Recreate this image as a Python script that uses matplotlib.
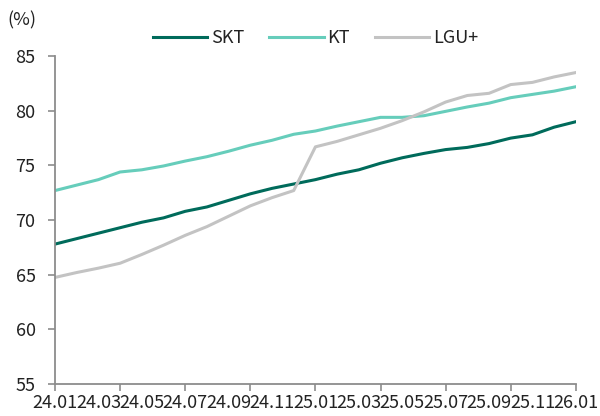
import matplotlib.pyplot as plt
import numpy as np

plt.rcParams['font.family'] = ['Noto Sans CJK KR', 'DejaVu Sans']
plt.rcParams['font.weight'] = 'light'

months = ['24.01', '24.02', '24.03', '24.04', '24.05', '24.06', '24.07', '24.08', '24.09',
          '24.10', '24.11', '24.12', '25.01', '25.02', '25.03', '25.04', '25.05', '25.06',
          '25.07', '25.08', '25.09', '25.10', '25.11', '25.12', '26.01']
skt = [67.8, 68.3, 68.8, 69.3, 69.8, 70.2, 70.8, 71.2, 71.8, 72.4, 72.9, 73.3, 73.7,
       74.2, 74.6, 75.2, 75.7, 76.1, 76.45, 76.65, 77.0, 77.5, 77.8, 78.5, 79.0]
kt = [72.7, 73.2, 73.7, 74.4, 74.6, 74.95, 75.4, 75.8, 76.3, 76.85, 77.3, 77.85, 78.15,
      78.6, 79.0, 79.4, 79.4, 79.55, 79.95, 80.35, 80.7, 81.2, 81.5, 81.8, 82.2]
lgu = [64.75, 65.2, 65.6, 66.05, 66.85, 67.7, 68.6, 69.4, 70.35, 71.3, 72.05, 72.7, 76.7,
       77.2, 77.8, 78.4, 79.1, 79.9, 80.8, 81.4, 81.6, 82.4, 82.6, 83.1, 83.5]

fig = plt.figure(figsize=(6, 4.16), dpi=100)
ax = fig.add_axes([0.0917, 0.077, 0.868, 0.788])

x = np.arange(len(months))
ax.plot(x, skt, color='#006b5b', lw=2.2, label='SKT')
ax.plot(x, kt, color='#66cdbb', lw=2.2, label='KT')
ax.plot(x, lgu, color='#c3c3c3', lw=2.2, label='LGU+')

ax.set_xlim(0, len(months) - 1)
ax.set_ylim(55, 85)
ax.set_yticks(range(55, 86, 5))

# labels every 2 months, tick marks every 3 months
ax.xaxis.remove_overlapping_locs = False
ax.set_xticks(x[::2])
ax.set_xticklabels(months[::2])
ax.set_xticks(x[::3], minor=True)
ax.tick_params(axis='x', which='major', length=0, pad=7, labelsize=13, colors='#222222')
ax.tick_params(axis='x', which='minor', length=5, width=1.2, color='#8c8c8c', direction='out')
ax.tick_params(axis='y', length=5, width=1.2, color='#8c8c8c', labelsize=13,
               labelcolor='#222222', pad=9)

for s in ['top', 'right']:
    ax.spines[s].set_visible(False)
for s in ['left', 'bottom']:
    ax.spines[s].set_color('#8c8c8c')
    ax.spines[s].set_linewidth(1.3)

fig.text(0.013, 0.95, '(%)', fontsize=13, color='#222222', va='center')
ax.legend(loc='center', bbox_to_anchor=(0.5, 1.055), ncol=3, frameon=False,
          fontsize=13, handlelength=3.0, handletextpad=0.2, columnspacing=1.4,
          labelcolor='#222222')

plt.savefig('out.png', dpi=100)
